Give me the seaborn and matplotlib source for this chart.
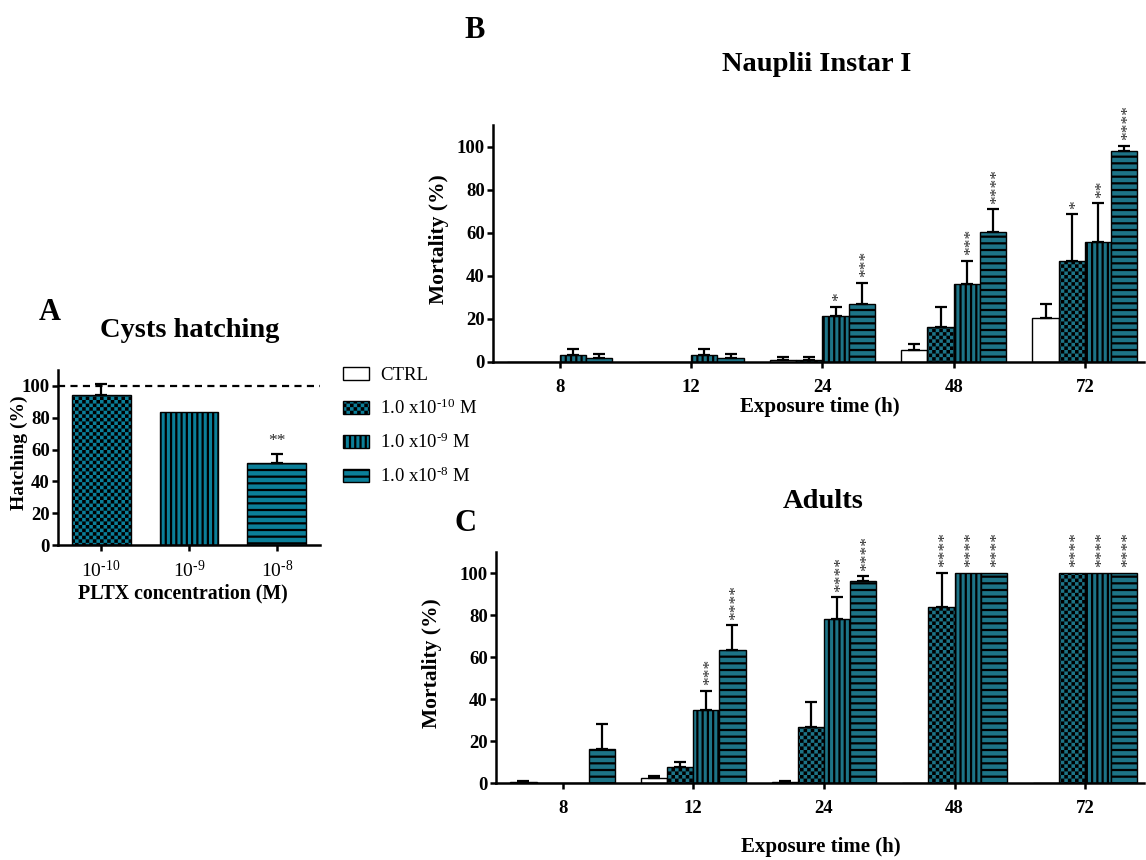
import numpy as np
import pandas as pd
import matplotlib
matplotlib.use("Agg")
import matplotlib.pyplot as plt
import matplotlib.hatch as mhatch
import matplotlib.patches as mpatches
from matplotlib.path import Path
import seaborn as sns

# ---------------- data ----------------
conc_labels = ['10$^{\u201010}$', '10$^{\u20109}$', '10$^{\u20108}$']
hatching_vals = [94.6, 83.3, 51.3]
hatching_err = [6.4, 0.0, 5.7]
hatching_stars = ['', '', '**']

hours = ['8', '12', '24', '48', '72']
groups = ['CTRL', '1.0 x10$^{\u201010}$ M', '1.0 x10$^{\u20109}$ M', '1.0 x10$^{\u20108}$ M']

nauplii_ctrl = [0.0, 0.0, 1.0, 5.6, 20.3]
nauplii_m10 = [0.0, 0.0, 1.0, 16.3, 46.9]
nauplii_m9 = [3.3, 3.3, 21.4, 36.4, 55.9]
nauplii_m8 = [1.7, 1.7, 26.9, 60.4, 98.1]
nauplii_ctrl_err = [0.0, 0.0, 1.2, 2.6, 6.8]
nauplii_m10_err = [0.0, 0.0, 1.2, 9.4, 21.7]
nauplii_m9_err = [2.6, 2.6, 4.3, 10.7, 17.8]
nauplii_m8_err = [1.9, 1.9, 9.8, 10.5, 2.2]
nauplii_stars = [['', '', '', '', ''],
                 ['', '', '', '', '*'],
                 ['', '', '*', '***', '**'],
                 ['', '', '***', '****', '****']]

adults_ctrl = [0.5, 2.4, 0.5, 0.0, 0.0]
adults_m10 = [0.0, 7.6, 26.7, 83.6, 100.0]
adults_m9 = [0.0, 34.6, 78.1, 100.0, 100.0]
adults_m8 = [16.3, 63.5, 96.2, 100.0, 100.0]
adults_ctrl_err = [0.5, 1.1, 0.5, 0.0, 0.0]
adults_m10_err = [0.0, 2.5, 12.0, 16.4, 0.0]
adults_m9_err = [0.0, 9.2, 10.3, 0.0, 0.0]
adults_m8_err = [11.8, 11.6, 2.2, 0.0, 0.0]
adults_stars = [['', '', '', '', ''],
                ['', '', '', '****', '****'],
                ['', '***', '****', '****', '****'],
                ['', '****', '****', '****', '****']]

TEAL = '#0b7f99'
palette = {groups[0]: 'white', groups[1]: TEAL, groups[2]: TEAL, groups[3]: TEAL}
hatches = ['', 'O', '|', '-']

# ---------------- custom hatch patterns ----------------
HATCH_LW = 1.6  # points


class CheckerHatch(mhatch.HatchPatternBase):
    def __init__(self, hatch, density):
        self.n = hatch.count('O') * 28
        self.num_vertices = (self.n * self.n // 2) * 5

    def set_vertices_and_codes(self, vertices, codes):
        n = self.n
        s = 1.0 / n
        inset = HATCH_LW / 72.0 / 2.0
        sq = []
        for i in range(n):
            for j in range(n):
                if (i + j) % 2 == 0:
                    x0, y0 = i * s + inset, j * s + inset
                    x1, y1 = (i + 1) * s - inset, (j + 1) * s - inset
                    sq.append([[x0, y0], [x1, y0], [x1, y1], [x0, y1], [x0, y0]])
        vertices[:] = np.array(sq).reshape(-1, 2)
        codes[:] = np.tile([Path.MOVETO, Path.LINETO, Path.LINETO,
                            Path.LINETO, Path.CLOSEPOLY], len(sq))


class HLines(mhatch.HatchPatternBase):
    def __init__(self, hatch, density):
        self.num_lines = hatch.count('-') * 15
        self.num_vertices = self.num_lines * 2

    def set_vertices_and_codes(self, vertices, codes):
        steps, step = np.linspace(0.0, 1.0, self.num_lines, False, retstep=True)
        steps += step / 2.0
        vertices[0::2, 0] = 0.0
        vertices[0::2, 1] = steps
        vertices[1::2, 0] = 1.0
        vertices[1::2, 1] = steps
        codes[0::2] = Path.MOVETO
        codes[1::2] = Path.LINETO


class VLines(mhatch.HatchPatternBase):
    def __init__(self, hatch, density):
        self.num_lines = hatch.count('|') * 19
        self.num_vertices = self.num_lines * 2

    def set_vertices_and_codes(self, vertices, codes):
        steps, step = np.linspace(0.0, 1.0, self.num_lines, False, retstep=True)
        steps += step / 2.0
        vertices[0::2, 0] = steps
        vertices[0::2, 1] = 0.0
        vertices[1::2, 0] = steps
        vertices[1::2, 1] = 1.0
        codes[0::2] = Path.MOVETO
        codes[1::2] = Path.LINETO


_types = mhatch._hatch_types
for i, t in enumerate(_types):
    if t.__name__ == 'HorizontalHatch':
        _types[i] = HLines
    elif t.__name__ == 'VerticalHatch':
        _types[i] = VLines
    elif t.__name__ == 'LargeCircles':
        _types[i] = CheckerHatch

# ---------------- style ----------------
sns.set_theme(style='ticks')
plt.rcParams['font.family'] = ['Liberation Serif', 'DejaVu Serif']
plt.rcParams['font.weight'] = 'bold'
plt.rcParams['axes.labelweight'] = 'bold'
plt.rcParams['mathtext.fontset'] = 'custom'
plt.rcParams['mathtext.rm'] = 'Liberation Serif'
plt.rcParams['mathtext.default'] = 'regular'
plt.rcParams['hatch.linewidth'] = HATCH_LW
plt.rcParams['axes.linewidth'] = 1.8
for k in ['text.color', 'axes.labelcolor', 'xtick.color', 'ytick.color',
          'axes.edgecolor', 'xtick.labelcolor', 'ytick.labelcolor']:
    plt.rcParams[k] = 'black'

W, H = 1146, 860
fig = plt.figure(figsize=(W / 100, H / 100), dpi=100)


def fx(x):
    return x / W


def fy(y):
    return 1 - y / H


def add_ax(l, t, r, b):
    return fig.add_axes([fx(l), fy(b), fx(r) - fx(l), (b - t) / H])


def style_axis(ax, tick_size=13.5):
    sns.despine(ax=ax)
    ax.tick_params(axis='both', width=1.8, length=4, direction='out',
                   labelsize=tick_size, colors='black')
    ax.tick_params(axis='y', pad=2)
    ax.tick_params(axis='x', pad=8)
    ax.set_ylim(0, 110)
    ax.set_yticks([0, 20, 40, 60, 80, 100])
    for lab in ax.get_yticklabels() + ax.get_xticklabels():
        lab.set_fontweight('bold')


def draw_errors_and_stars(ax, bars, errs, stars, rotate=True):
    for bar, e, s in zip(bars, errs, stars):
        x = bar.get_x() + bar.get_width() / 2
        top = bar.get_height()
        if e > 0:
            ax.errorbar([x], [top], yerr=[[0], [e]], fmt='none', ecolor='black',
                        elinewidth=1.6, capsize=4.3, capthick=1.6, zorder=5)
        if s:
            ax.annotate(s, xy=(x, top + e), xytext=(2.8 if rotate else 0, 4),
                        textcoords='offset points', ha='center', va='bottom',
                        rotation=90 if rotate else 0, fontsize=12.5,
                        fontweight='normal', color='#2a2a2a', annotation_clip=False)


def bar_patches(ax):
    return [p for p in ax.patches if isinstance(p, mpatches.Rectangle)]


# ---------------- panel A ----------------
axA = add_ax(58, 370, 320, 545)
dfA = pd.DataFrame({'conc': conc_labels, 'hatching': hatching_vals})
sns.barplot(data=dfA, x='conc', y='hatching', order=conc_labels, color=TEAL,
            width=0.67, edgecolor='black', linewidth=1.0, errorbar=None, ax=axA)
barsA = sorted(bar_patches(axA), key=lambda p: p.get_x())
for bar, h in zip(barsA, ['O', '|', '-']):
    bar.set_facecolor(TEAL)
    bar.set_hatch(h)
draw_errors_and_stars(axA, barsA, hatching_err, hatching_stars, rotate=False)
axA.axhline(100, color='black', lw=1.6, ls=(0, (3.2, 2.4)), zorder=6)
style_axis(axA, 13.5)
axA.tick_params(axis='x', pad=7)
axA.set_xlim(-0.49, 2.49)
for lab in axA.get_xticklabels():
    lab.set_fontweight('normal')
    lab.set_fontsize(14)
axA.set_xlabel('PLTX concentration (M)', fontsize=14.3, va='center')
axA.set_ylabel('Hatching (%)', fontsize=14, va='center')
axA.xaxis.set_label_coords(0.477, -0.275)
axA.yaxis.set_label_coords(-0.147, 0.526)


# ---------------- panels B and C ----------------
def mortality_panel(ax, series, errs, stars, xlab_y, ylab_x):
    recs = []
    for g, vals in zip(groups, series):
        for h, v in zip(hours, vals):
            recs.append({'hour': h, 'group': g, 'mortality': v})
    df = pd.DataFrame(recs)
    sns.barplot(data=df, x='hour', y='mortality', hue='group', order=hours,
                hue_order=groups, palette=palette, edgecolor='black',
                linewidth=1.0, errorbar=None, legend=False, width=0.8, ax=ax)
    # map each drawn bar to (group, hour) from its position on the categorical scale
    ng = len(groups)
    grid = [[None] * len(hours) for _ in groups]
    for p in bar_patches(ax):
        c = p.get_x() + p.get_width() / 2
        hi = int(round(c))
        gi = int(round((c - hi + 0.4) / (0.8 / ng) - 0.5))
        if 0 <= hi < len(hours) and 0 <= gi < ng:
            grid[gi][hi] = p
    for gi in range(ng):
        bars = grid[gi]
        for bar in bars:
            if bar is not None:
                bar.set_hatch(hatches[gi])
        pairs = [(b, e, s) for b, e, s in zip(bars, errs[gi], stars[gi]) if b is not None]
        draw_errors_and_stars(ax, [q[0] for q in pairs], [q[1] for q in pairs],
                              [q[2] for q in pairs])
    style_axis(ax, 13.5)
    ax.set_xlim(-0.51, 4.45)
    ax.set_xlabel('Exposure time (h)', fontsize=15, va='center')
    ax.set_ylabel('Mortality (%)', fontsize=15.5, va='center')
    ax.xaxis.set_label_coords(0.502, xlab_y)
    ax.yaxis.set_label_coords(ylab_x, 0.518)


axB = add_ax(493, 125, 1144, 362)
mortality_panel(axB,
                [nauplii_ctrl, nauplii_m10, nauplii_m9, nauplii_m8],
                [nauplii_ctrl_err, nauplii_m10_err, nauplii_m9_err, nauplii_m8_err],
                nauplii_stars, -0.19, -0.083)

axC = add_ax(496, 552, 1144, 783)
mortality_panel(axC,
                [adults_ctrl, adults_m10, adults_m9, adults_m8],
                [adults_ctrl_err, adults_m10_err, adults_m9_err, adults_m8_err],
                adults_stars, -0.277, -0.099)

# ---------------- titles / panel letters ----------------
fig.text(fx(190), fy(337), 'Cysts hatching', fontsize=20.5, ha='center', va='baseline')
fig.text(fx(50), fy(320), 'A', fontsize=22, ha='center', va='baseline')
fig.text(fx(817), fy(71), 'Nauplii Instar I', fontsize=20.5, ha='center', va='baseline')
fig.text(fx(475), fy(38), 'B', fontsize=22, ha='center', va='baseline')
fig.text(fx(823), fy(508), 'Adults', fontsize=20.5, ha='center', va='baseline')
fig.text(fx(465), fy(531), 'C', fontsize=22, ha='center', va='baseline')

# ---------------- legend ----------------
handles = [mpatches.Patch(facecolor=palette[g], edgecolor='black', hatch=h, linewidth=1.0)
           for g, h in zip(groups, hatches)]
fig.legend(handles, groups, loc='upper left', bbox_to_anchor=(fx(343), fy(367)),
           frameon=False, prop={'family': 'Liberation Serif', 'weight': 'normal', 'size': 13.5},
           handlelength=1.39, handleheight=0.64, handletextpad=0.6, labelspacing=0.78,
           borderpad=0, borderaxespad=0)

fig.savefig('out.png', dpi=100, facecolor='white')
